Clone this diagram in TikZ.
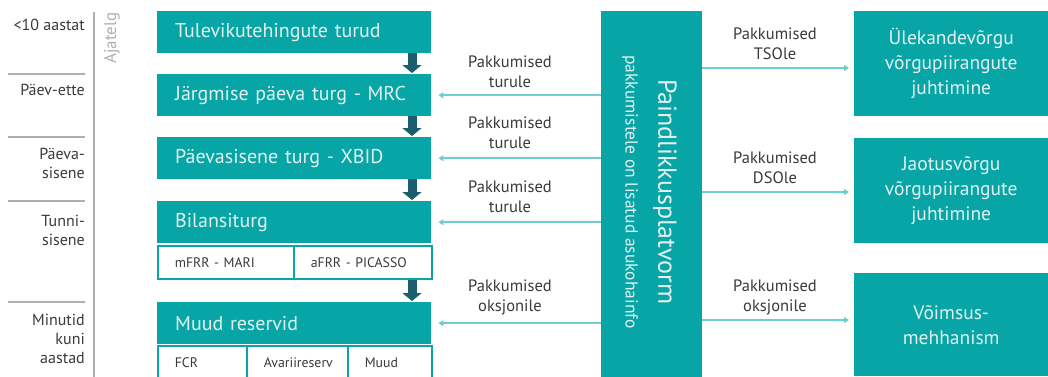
\documentclass[tikz,border=0pt]{standalone}
\usepackage{fontspec}
\setmainfont{PT Sans}
\usetikzlibrary{arrows.meta}
\definecolor{brandteal}{HTML}{08A5A7}
\definecolor{boxtext}{HTML}{E2F1EF}
\definecolor{flowdark}{HTML}{1D5E6E}
\definecolor{linklight}{HTML}{6FCDCD}
\definecolor{labeltext}{HTML}{3A3A3A}
\definecolor{axisgray}{HTML}{AFAFAF}

\tikzset{
  hdr/.style={fill=brandteal, draw=none, text=boxtext, anchor=north west,
    font=\fontsize{20}{22}\selectfont, inner xsep=18pt, inner ysep=0pt,
    align=left, minimum height=#1},
  hdr/.default=42pt,
  cell/.style={fill=white, draw=brandteal, line width=1.6pt, anchor=north west,
    text=labeltext, font=\fontsize{13.8}{15}\selectfont, inner xsep=17pt,
    inner ysep=0pt, align=left, minimum height=33pt},
  rbox/.style={fill=brandteal, draw=none, text=boxtext, anchor=north west,
    font=\fontsize{19.5}{25}\selectfont, align=center, inner sep=0pt,
    minimum width=194pt},
  flow/.style={line width=9pt, flowdark, -{Triangle[length=8pt,width=19pt]}},
  link/.style={line width=2pt, linklight, -{Triangle[length=5pt,width=6pt]}},
  linktext/.style={text=labeltext, font=\fontsize{16.5}{20}\selectfont, align=center},
  tick/.style={line width=1.5pt, axisgray},
  timetext/.style={text=labeltext, font=\fontsize{16}{19}\selectfont, align=right,
    anchor=east, inner sep=0pt},
}

\begin{document}
\begin{tikzpicture}[x=1pt, y=-1pt]
\clip (0,0) rectangle (1048,376);

% time axis
\coordinate (axtop) at (94,12);
\coordinate (axbot) at (94,380);
\draw[tick] (axtop) -- (axbot);
\foreach \yy/\nm in {74/s1,137/s2,201/s3,302/s4}{
  \coordinate (\nm a) at (8,\yy);
  \coordinate (\nm b) at (85,\yy);
  \draw[tick] (\nm a) -- (\nm b);
}
\node[text=axisgray, font=\fontsize{17}{18}\selectfont, rotate=90] (axlbl) at (112,38) {Ajatelg};
\node[timetext] (t1) at (85,25) {<10 aastat};
\node[timetext] (t2) at (85,90) {Päev-ette};
\node[timetext] (t3) at (85,163.5) {Päeva-\\sisene};
\node[timetext] (t4) at (85,230) {Tunni-\\sisene};
\node[timetext] (t5) at (85,339) {Minutid\\kuni\\aastad};

% market stack
\node[hdr, text width=238pt] (m1) at (157,11) {Tulevikutehingute turud};
\node[hdr, text width=238pt] (m2) at (157,74) {Järgmise päeva turg - MRC};
\node[hdr, text width=238pt] (m3) at (157,137) {Päevasisene turg - XBID};
\node[hdr, text width=238pt] (m4) at (157,201) {Bilansiturg};
\node[cell, text width=102pt] (c41) at (157,245) {mFRR - MARI};
\node[cell, text width=104pt] (c42) at (293,245) {aFRR - PICASSO};
\node[hdr, text width=238pt] (m5) at (157,302) {Muud reservid};
\node[cell, text width=55pt] (c51) at (157,345) {FCR};
\node[cell, text width=67pt] (c52) at (246,345) {Avariireserv};
\node[cell, text width=50pt] (c53) at (347,345) {Muud};

\foreach \a/\b in {m1/m2,m2/m3,m3/m4,c42/m5}{
  \draw[flow] (\a.south -| 412,0) -- ([yshift=1pt]\b.north -| 412,0);
}

% flexibility platform
\node[fill=brandteal, anchor=north west, minimum width=101pt, minimum height=370pt,
      inner sep=0pt] (plat) at (601,11) {};
\node[text=boxtext, font=\fontsize{26}{28}\selectfont, rotate=-90] (pname) at (665,192) {Paindlikkusplatvorm};
\node[text=boxtext, font=\fontsize{17.5}{19}\selectfont, rotate=-90] (pnote) at (630,192) {pakkumistele on lisatud asukohainfo};

% offers to markets
\foreach \m in {m2,m3,m4,m5}{
  \draw[link, shorten >=7pt] (plat.west |- \m.east) -- (\m.east);
}
\node[linktext] (l2) at (510,71.5) {Pakkumised\\turule};
\node[linktext] (l3) at (510,133) {Pakkumised\\turule};
\node[linktext] (l4) at (510,197) {Pakkumised\\turule};
\node[linktext] (l5) at (510,297) {Pakkumised\\oksjonile};

% network operators and capacity mechanism
\node[rbox, minimum height=105pt] (r1) at (854,11) {Ülekandevõrgu\\võrgupiirangute\\juhtimine};
\node[rbox, minimum height=105pt] (r2) at (854,138) {Jaotusvõrgu\\võrgupiirangute\\juhtimine};
\node[rbox, minimum height=103pt] (r3) at (854,273) {Võimsus-\\mehhanism};

\coordinate (o1) at (702,68);
\coordinate (o2) at (702,192);
\coordinate (o3) at (702,320);
\foreach \o/\r in {o1/r1,o2/r2,o3/r3}{
  \draw[link, shorten >=5pt] (\o) -- (\o -| \r.west);
}
\node[linktext] (q1) at (775,44) {Pakkumised\\TSOle};
\node[linktext] (q2) at (775,167.5) {Pakkumised\\DSOle};
\node[linktext] (q3) at (775,297) {Pakkumised\\oksjonile};
\end{tikzpicture}
\end{document}
